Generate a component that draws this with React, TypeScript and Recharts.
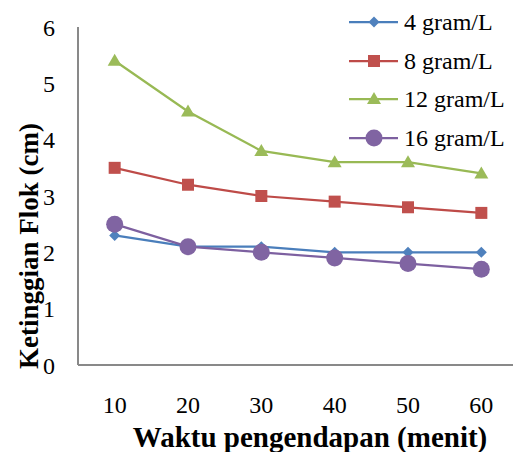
import { LineChart, Line, XAxis, YAxis, Label } from 'recharts';

const times = [10, 20, 30, 40, 50, 60];
const g4 = [2.3, 2.1, 2.1, 2.0, 2.0, 2.0];
const g8 = [3.5, 3.2, 3.0, 2.9, 2.8, 2.7];
const g12 = [5.4, 4.5, 3.8, 3.6, 3.6, 3.4];
const g16 = [2.5, 2.1, 2.0, 1.9, 1.8, 1.7];
const yTicks = [0, 1, 2, 3, 4, 5, 6];

const data = times.map((t, i) => ({ t, g4: g4[i], g8: g8[i], g12: g12[i], g16: g16[i] }));

const FONT = '"Liberation Serif", "Times New Roman", serif';

type Shape = 'diamond' | 'square' | 'triangle' | 'circle';

function marker(shape: Shape, fill: string, cx: number, cy: number, key?: any) {
  if (shape === 'diamond') {
    const s = 5.5;
    return <path key={key} d={`M${cx},${cy - s}L${cx + s},${cy}L${cx},${cy + s}L${cx - s},${cy}Z`} fill={fill} />;
  }
  if (shape === 'square') {
    return <rect key={key} x={cx - 6} y={cy - 6} width={12} height={12} fill={fill} />;
  }
  if (shape === 'triangle') {
    return <path key={key} d={`M${cx},${cy - 7}L${cx + 7},${cy + 5}L${cx - 7},${cy + 5}Z`} fill={fill} />;
  }
  return <circle key={key} cx={cx} cy={cy} r={8.5} fill={fill} />;
}

const series = [
  { key: 'g4', name: '4 gram/L', line: '#4A7EBB', fill: '#4F81BD', shape: 'diamond' as Shape },
  { key: 'g8', name: '8 gram/L', line: '#BE4B48', fill: '#C0504D', shape: 'square' as Shape },
  { key: 'g12', name: '12 gram/L', line: '#98B954', fill: '#9BBB59', shape: 'triangle' as Shape },
  { key: 'g16', name: '16 gram/L', line: '#7D60A0', fill: '#8064A2', shape: 'circle' as Shape },
];

const XTitle = (props: any) => {
  const vb = props.viewBox;
  return (
    <text x={vb.x + vb.width / 2 + 12} y={vb.y + 82} textAnchor="middle" fontFamily={FONT} fontSize={29} fontWeight="bold" fill="#000">
      Waktu pengendapan (menit)
    </text>
  );
};

const YTitle = (props: any) => {
  const vb = props.viewBox;
  const cx = 38;
  const cy = vb.y + vb.height / 2 + 50;
  return (
    <text x={cx} y={cy} transform={`rotate(-90 ${cx} ${cy})`} textAnchor="middle" fontFamily={FONT} fontSize={27} fontWeight="bold" fill="#000">
      Ketinggian Flok (cm)
    </text>
  );
};

export default function App() {
  return (
    <div style={{ position: 'absolute', left: 0, top: 0, width: 513, height: 452, overflow: 'hidden', background: '#fff' }}>
      <LineChart width={518} height={452} data={data} margin={{ top: 27, right: 0, bottom: 0, left: 0 }}>
        <XAxis
          dataKey="t"
          scale="band"
          height={87}
          axisLine={{ stroke: '#898989', strokeWidth: 2 }}
          tickLine={false}
          tickSize={0}
          tickMargin={31}
          tick={{ fill: '#000', fontSize: 24, fontFamily: FONT }}
        >
          <Label content={XTitle} />
        </XAxis>
        <YAxis
          width={78}
          domain={[0, 6]}
          ticks={yTicks}
          interval={0}
          axisLine={{ stroke: '#898989', strokeWidth: 2 }}
          tickLine={false}
          tickSize={0}
          tickMargin={23}
          tick={{ fill: '#000', fontSize: 24, fontFamily: FONT }}
        >
          <Label content={YTitle} />
        </YAxis>
        {series.map((s) => (
          <Line
            key={s.key}
            dataKey={s.key}
            name={s.name}
            stroke={s.line}
            strokeWidth={2.25}
            isAnimationActive={false}
            dot={(p: any) => marker(s.shape, s.fill, p.cx, p.cy, `${s.key}-${p.index}`)}
            activeDot={false}
          />
        ))}
      </LineChart>
      {series.map((s, i) => (
        <div
          key={s.key}
          style={{ position: 'absolute', left: 349, top: 22 + i * 38.7 - 14, height: 28, display: 'flex', alignItems: 'center' }}
        >
          <svg width={55} height={28}>
            <line x1={0} y1={14} x2={49} y2={14} stroke={s.line} strokeWidth={2.25} />
            {marker(s.shape, s.fill, 25, 14)}
          </svg>
          <span style={{ fontFamily: FONT, fontSize: 24, color: '#000', whiteSpace: 'nowrap', lineHeight: '28px' }}>{s.name}</span>
        </div>
      ))}
    </div>
  );
}
